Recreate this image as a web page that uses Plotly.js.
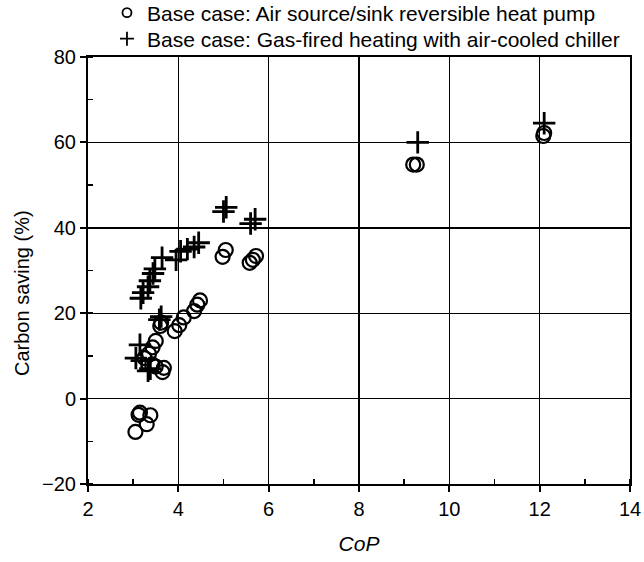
<!DOCTYPE html>
<html>
<head>
<meta charset="utf-8">
<script src="https://cdn.plot.ly/plotly-3.0.1.min.js"></script>
<style>html,body{margin:0;padding:0;background:#fff;}#chart{width:644px;height:562px;}</style>
</head>
<body>
<div id="chart"></div>
<script>
// Base case: Air source/sink reversible heat pump (open circles)
const heatPumpCoP = [3.05, 3.12, 3.15, 3.38, 3.30, 3.25, 3.35, 3.42, 3.50, 3.43, 3.50, 3.65, 3.68, 3.60, 3.62, 3.92, 4.02, 4.12, 4.35, 4.42, 4.48, 4.98, 5.05, 5.58, 5.65, 5.72, 9.20, 9.28, 12.08, 12.10];
const heatPumpSaving = [-7.8, -3.8, -3.3, -3.9, -6.0, 9.5, 10.5, 8.0, 7.5, 12.0, 13.5, 6.2, 7.2, 17.0, 17.8, 15.8, 17.2, 19.0, 20.5, 22.0, 23.0, 33.2, 34.8, 31.8, 32.5, 33.4, 54.8, 54.8, 61.5, 62.2];

// Base case: Gas-fired heating with air-cooled chiller (plus markers)
const gasCoP = [3.06, 3.15, 3.19, 3.33, 3.38, 3.62, 3.58, 3.17, 3.22, 3.33, 3.37, 3.44, 3.48, 3.64, 3.95, 4.05, 4.20, 4.35, 4.45, 5.00, 5.06, 5.60, 5.70, 9.30, 12.10];
const gasSaving = [9.5, 12.6, 8.9, 6.5, 7.0, 19.2, 18.5, 23.5, 24.8, 26.2, 27.6, 29.3, 30.4, 33.0, 32.5, 34.5, 35.0, 35.5, 36.5, 43.8, 44.8, 41.0, 42.0, 60.0, 64.5];

const legendNames = ["Base case: Air source/sink reversible heat pump", "Base case: Gas-fired heating with air-cooled chiller"];
const xTicks = [2, 4, 6, 8, 10, 12, 14];
const yTicks = [-20, 0, 20, 40, 60, 80];
const xTitle = "CoP";
const yTitle = "Carbon saving (%)";

const FONT = "Liberation Sans, Arial, sans-serif";

const circleMarker = {symbol: "circle-open", size: 14, color: "#000", line: {width: 2.2, color: "#000"}};
const plusMarker = {symbol: "cross-thin-open", size: 16, color: "#000", line: {width: 2.8, color: "#000"}};

const traces = [
  {x: heatPumpCoP, y: heatPumpSaving, type: "scatter", mode: "markers", showlegend: false, marker: circleMarker},
  {x: gasCoP, y: gasSaving, type: "scatter", mode: "markers", showlegend: false, marker: plusMarker},
  // legend-only entries with the small symbols of the reference legend
  {x: [null], y: [null], type: "scatter", mode: "markers", name: legendNames[0], legend: "legend",
   marker: {symbol: "circle-open", size: 9, color: "#000", line: {width: 1.8, color: "#000"}}},
  {x: [null], y: [null], type: "scatter", mode: "markers", name: legendNames[1], legend: "legend2",
   marker: {symbol: "cross-thin-open", size: 10, color: "#000", line: {width: 1.8, color: "#000"}}}
];

const legendBase = {
  xanchor: "left", yanchor: "middle",
  bgcolor: "rgba(0,0,0,0)", font: {family: FONT, size: 21, color: "#000"},
  itemwidth: 30
};

const layout = {
  width: 644, height: 562,
  margin: {l: 88, r: 14, t: 57, b: 78, autoexpand: false},
  paper_bgcolor: "#fff", plot_bgcolor: "#fff",
  font: {family: FONT, color: "#000", size: 18},
  showlegend: true,
  legend: Object.assign({}, legendBase, {x: 0.035, y: 1.103}),
  legend2: Object.assign({}, legendBase, {x: 0.035, y: 1.042}),
  xaxis: {
    range: [2, 14], tickmode: "array", tickvals: xTicks, ticktext: xTicks.map(String),
    showline: true, linecolor: "#000", linewidth: 2, mirror: true,
    showgrid: true, gridcolor: "#000", gridwidth: 1.4, zeroline: false,
    ticks: "outside", ticklen: 6, tickwidth: 2, tickcolor: "#000",
    minor: {ticks: "inside", dtick: 1, tick0: 2, ticklen: 5, tickwidth: 1.5, tickcolor: "#000", showgrid: false},
    tickfont: {family: FONT, size: 20, color: "#000"},
    title: {text: "<i>" + xTitle + "</i>", font: {family: FONT, size: 21, color: "#000"}, standoff: 17}
  },
  yaxis: {
    range: [-20, 80], tickmode: "array", tickvals: yTicks, ticktext: yTicks.map(v => v < 0 ? "\u2212" + Math.abs(v) : String(v)),
    showline: true, linecolor: "#000", linewidth: 2, mirror: true,
    showgrid: true, gridcolor: "#000", gridwidth: 1.4, zeroline: false,
    ticks: "outside", ticklen: 6, tickwidth: 2, tickcolor: "#000",
    minor: {ticks: "inside", dtick: 10, tick0: -20, ticklen: 5, tickwidth: 1.5, tickcolor: "#000", showgrid: false},
    tickfont: {family: FONT, size: 20, color: "#000"}
  },
  annotations: [{
    text: yTitle, textangle: -90, showarrow: false,
    xref: "paper", yref: "paper", x: -0.122, y: 0.447, xanchor: "center", yanchor: "middle",
    font: {family: FONT, size: 20, color: "#000"}
  }]
};

Plotly.newPlot("chart", traces, layout, {staticPlot: true, displayModeBar: false});
</script>
</body>
</html>
